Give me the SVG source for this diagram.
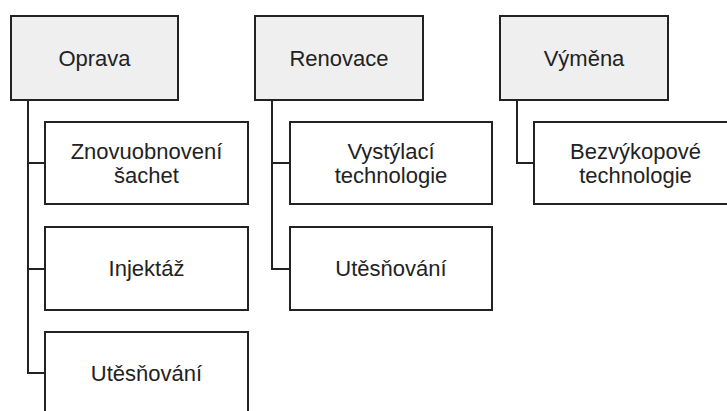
<svg xmlns="http://www.w3.org/2000/svg" width="727" height="411" viewBox="0 0 727 411">
<style>
.top{fill:#efefef;stroke:#222;stroke-width:2}
.box{fill:#fff;stroke:#222;stroke-width:2}
.t{font-family:"Liberation Sans",Arial,sans-serif;font-size:22px;fill:#222;text-anchor:middle}
.c{fill:none;stroke:#222;stroke-width:2}
</style>
<rect width="727" height="411" fill="#fff"/>
<g id="connectors">
<path class="c" d="M28,100 V373 H45 M28,163 H45 M28,269 H45"/>
<path class="c" d="M272,100 V269 H290 M272,163 H290"/>
<path class="c" d="M517,100 V163 H534"/>
</g>
<g id="oprava"><rect class="top" x="11" y="16" width="167" height="84"/><text class="t" x="94.5" y="66">Oprava</text></g>
<g id="renovace"><rect class="top" x="255" y="16" width="168" height="84"/><text class="t" x="339" y="66">Renovace</text></g>
<g id="vymena"><rect class="top" x="500" y="16" width="168" height="84"/><text class="t" x="584" y="66">Výměna</text></g>
<g id="znovuobnoveni"><rect class="box" x="45" y="122" width="203" height="82"/><text class="t" x="146.5" y="159">Znovuobnovení</text><text class="t" x="146.5" y="183">šachet</text></g>
<g id="injektaz"><rect class="box" x="45" y="227" width="203" height="83"/><text class="t" x="146.5" y="276">Injektáž</text></g>
<g id="utesnovani1"><rect class="box" x="45" y="332" width="203" height="84"/><text class="t" x="146.5" y="381">Utěsňování</text></g>
<g id="vystylaci"><rect class="box" x="290" y="122" width="202" height="82"/><text class="t" x="391" y="159">Vystýlací</text><text class="t" x="391" y="183">technologie</text></g>
<g id="utesnovani2"><rect class="box" x="290" y="227" width="202" height="83"/><text class="t" x="391" y="276">Utěsňování</text></g>
<g id="bezvykopove"><rect class="box" x="534" y="122" width="203" height="82"/><text class="t" x="635.5" y="159">Bezvýkopové</text><text class="t" x="635.5" y="183">technologie</text></g>
</svg>
